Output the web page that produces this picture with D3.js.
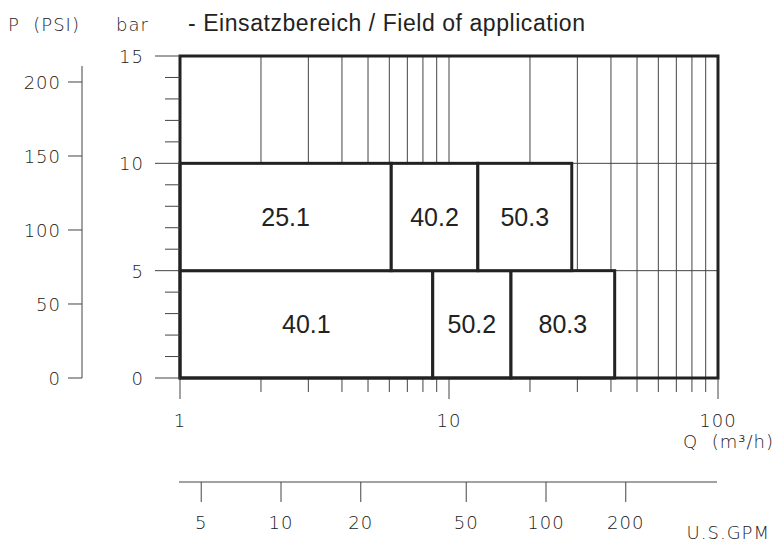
<!DOCTYPE html>
<html>
<head>
<meta charset="utf-8">
<script src="https://cdn.jsdelivr.net/npm/d3@7"></script>
<style>
  body { margin: 0; background: #fff; }
  .tech { font-family: "DejaVu Sans", sans-serif; font-weight: 300; font-size: 18px; fill: #222; letter-spacing: 1px; }
  .sans { font-family: "Liberation Sans", Arial, sans-serif; fill: #222; }
</style>
</head>
<body>
<div class="chart"></div>
<script>
// data
const boxLabels = ["40.1", "50.2", "80.3", "25.1", "40.2", "50.3"];
const boxQFrom = [1, 8.7, 17, 1, 6.1, 12.8];
const boxQTo = [8.7, 17, 41.3, 6.1, 12.8, 28.6];
const boxPFrom = [0, 0, 0, 5, 5, 5];
const boxPTo = [5, 5, 5, 10, 10, 10];

const barTicks = [0, 5, 10, 15];
const psiTicks = [0, 50, 100, 150, 200];
const qTicks = [1, 10, 100];
const gpmTicks = [5, 10, 20, 50, 100, 200];

(function(){
    const svgWidth = 774, svgHeight = 544;

    const svg = d3.select(".chart")
        .append("svg")
        .attr("width", svgWidth)
        .attr("height", svgHeight);

    // scales
    const x = d3.scaleLog().domain([1, 100]).range([180, 718]);
    const y = d3.scaleLinear().domain([0, 15]).range([378, 56]);
    const yPsi = d3.scaleLinear().domain([0, 15 * 14.5038]).range([378, 56]);
    const xGpm = d3.scaleLog().domain([10, 100]).range([281, 546]);

    // vertical grid (all log minors), extends below as ticks
    const gridVals = d3.range(1, 10).concat(d3.range(10, 101, 10));
    svg.append("g").selectAll("line")
        .data(gridVals)
        .enter().append("line")
        .attr("x1", d => x(d)).attr("x2", d => x(d))
        .attr("y1", y(15))
        .attr("y2", d => qTicks.includes(d) ? 399 : 392)
        .attr("stroke", "#444")
        .attr("stroke-width", 1);

    // horizontal thin lines at 5 and 10 bar
    svg.append("g").selectAll("line")
        .data([5, 10])
        .enter().append("line")
        .attr("x1", x(1)).attr("x2", x(100))
        .attr("y1", d => y(d)).attr("y2", d => y(d))
        .attr("stroke", "#444").attr("stroke-width", 1);

    // boxes
    const boxes = boxLabels.map((l, i) => ({label: l, q0: boxQFrom[i], q1: boxQTo[i], p0: boxPFrom[i], p1: boxPTo[i]}));
    const boxG = svg.append("g");
    boxG.selectAll("rect")
        .data(boxes)
        .enter().append("rect")
        .attr("x", d => x(d.q0))
        .attr("y", d => y(d.p1))
        .attr("width", d => x(d.q1) - x(d.q0))
        .attr("height", d => y(d.p0) - y(d.p1))
        .attr("fill", "#fff")
        .attr("stroke", "#222")
        .attr("stroke-width", 3);

    boxG.selectAll("text")
        .data(boxes)
        .enter().append("text")
        .attr("class", "sans")
        .attr("x", d => (x(d.q0) + x(d.q1)) / 2)
        .attr("y", d => (y(d.p0) + y(d.p1)) / 2 + 9)
        .attr("text-anchor", "middle")
        .attr("font-size", "25px")
        .text(d => d.label);

    // outer frame
    svg.append("rect")
        .attr("x", x(1)).attr("y", y(15))
        .attr("width", x(100) - x(1)).attr("height", y(0) - y(15))
        .attr("fill", "none")
        .attr("stroke", "#222")
        .attr("stroke-width", 3);

    // bar axis ticks (each bar, majors longer)
    svg.append("g").selectAll("line")
        .data(d3.range(0, 16))
        .enter().append("line")
        .attr("x1", d => barTicks.includes(d) ? 155 : 165)
        .attr("x2", x(1))
        .attr("y1", d => y(d)).attr("y2", d => y(d))
        .attr("stroke", "#444").attr("stroke-width", 1);

    svg.append("g").selectAll("text")
        .data(barTicks)
        .enter().append("text")
        .attr("class", "tech")
        .attr("x", 144)
        .attr("y", d => y(d) + 7)
        .attr("text-anchor", "end")
        .attr("font-size", "19px")
        .text(d => d);

    // PSI axis
    const psiG = svg.append("g");
    psiG.append("line")
        .attr("x1", 82).attr("x2", 82)
        .attr("y1", 66).attr("y2", yPsi(0))
        .attr("stroke", "#444").attr("stroke-width", 1);
    psiG.selectAll("line.t")
        .data(psiTicks)
        .enter().append("line")
        .attr("class", "t")
        .attr("x1", 68).attr("x2", 82)
        .attr("y1", d => yPsi(d)).attr("y2", d => yPsi(d))
        .attr("stroke", "#444").attr("stroke-width", 1);
    psiG.selectAll("text")
        .data(psiTicks)
        .enter().append("text")
        .attr("class", "tech")
        .attr("x", 61)
        .attr("y", d => yPsi(d) + 7)
        .attr("text-anchor", "end")
        .text(d => d);

    // Q tick labels
    svg.append("g").selectAll("text")
        .data(qTicks)
        .enter().append("text")
        .attr("class", "tech")
        .attr("x", d => x(d))
        .attr("y", 427)
        .attr("text-anchor", "middle")
        .text(d => d);

    svg.append("text")
        .attr("class", "tech")
        .attr("x", 774).attr("y", 448)
        .attr("text-anchor", "end")
        .attr("xml:space", "preserve")
        .text("Q  (m³/h)");

    // GPM axis
    const gpmG = svg.append("g");
    gpmG.append("line")
        .attr("x1", 179).attr("x2", 717)
        .attr("y1", 482).attr("y2", 482)
        .attr("stroke", "#444").attr("stroke-width", 1);
    gpmG.selectAll("line.t")
        .data(gpmTicks)
        .enter().append("line")
        .attr("class", "t")
        .attr("x1", d => xGpm(d)).attr("x2", d => xGpm(d))
        .attr("y1", 482).attr("y2", 502)
        .attr("stroke", "#444").attr("stroke-width", 1);
    gpmG.selectAll("text")
        .data(gpmTicks)
        .enter().append("text")
        .attr("class", "tech")
        .attr("x", d => xGpm(d))
        .attr("y", 529)
        .attr("text-anchor", "middle")
        .text(d => d);

    svg.append("text")
        .attr("class", "tech")
        .attr("x", 770).attr("y", 539)
        .attr("text-anchor", "end")
        .attr("font-size", "17px")
        .text("U.S.GPM");

    // headers
    svg.append("text").attr("class", "tech").attr("x", 8).attr("y", 31)
        .attr("xml:space", "preserve").text("P  (PSI)");
    svg.append("text").attr("class", "tech").attr("x", 116).attr("y", 31).text("bar");
    svg.append("text").attr("class", "sans")
        .attr("x", 188).attr("y", 31)
        .attr("font-size", "23px")
        .attr("textLength", 397)
        .attr("lengthAdjust", "spacing")
        .text("- Einsatzbereich / Field of application");
})();
</script>
</body>
</html>
